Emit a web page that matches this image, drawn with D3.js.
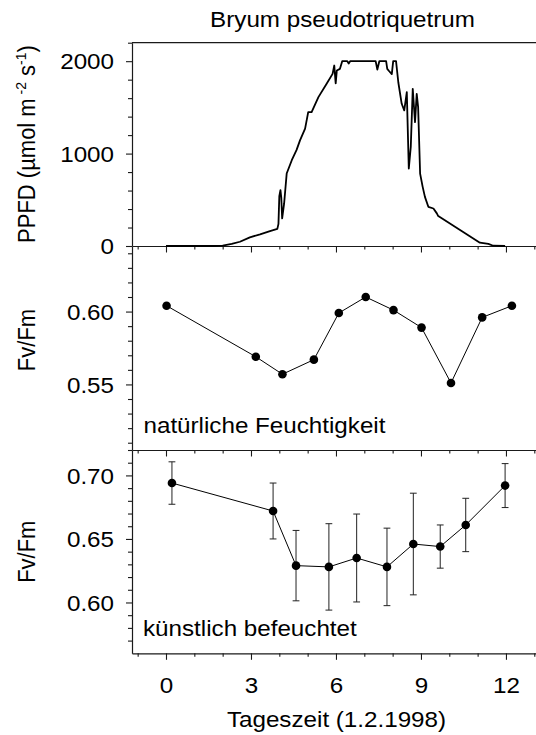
<!DOCTYPE html>
<html>
<head>
<meta charset="utf-8">
<script src="https://cdn.jsdelivr.net/npm/d3@7"></script>
<style>
  html, body { margin: 0; padding: 0; background: #fff; }
  svg { display: block; }
</style>
</head>
<body>
<script>
// ---------------- DATA ----------------
const ppfdHours = [0, 1.0, 1.67, 2.0, 2.32, 2.61, 2.96, 3.32, 3.67, 3.93, 3.97, 4.00, 4.04, 4.07, 4.10, 4.17, 4.26, 4.44, 4.61, 4.73, 4.91, 5.02, 5.14, 5.38, 5.67, 5.88, 5.94, 5.99, 6.03, 6.14, 6.22, 6.40, 6.45, 6.50, 7.40, 7.46, 7.53, 7.77, 7.81, 7.88, 7.97, 8.02, 8.12, 8.20, 8.32, 8.41, 8.50, 8.57, 8.64, 8.71, 8.79, 8.85, 8.90, 8.97, 9.06, 9.14, 9.26, 9.44, 9.56, 9.61, 11.08, 11.38, 11.55, 11.97];
const ppfdValues = [0, 0, 0, 5, 22, 46, 94, 126, 162, 185, 240, 540, 604, 520, 299, 460, 784, 928, 1040, 1143, 1270, 1449, 1449, 1611, 1755, 1863, 1953, 1760, 1899, 1917, 2000, 2000, 1975, 2000, 2000, 1910, 2000, 2000, 1917, 1891, 1860, 2000, 2000, 1772, 1539, 1467, 1665, 838, 1071, 1701, 1341, 1647, 1503, 784, 640, 532, 424, 406, 353, 324, 36, 22, 3, 0];

const natHours = [0.02, 3.17, 4.11, 5.22, 6.10, 7.05, 8.03, 9.02, 10.06, 11.16, 12.21];
const natFvFm  = [0.604, 0.569, 0.557, 0.567, 0.599, 0.610, 0.601, 0.589, 0.551, 0.596, 0.604];

const artHours = [0.21, 3.78, 4.59, 5.75, 6.73, 7.80, 8.73, 9.68, 10.58, 11.97];
const artFvFm  = [0.694, 0.672, 0.629, 0.628, 0.635, 0.628, 0.646, 0.644, 0.661, 0.692];
const artSD    = [0.0167, 0.022, 0.0277, 0.034, 0.0346, 0.0305, 0.040, 0.017, 0.021, 0.0173];

const hourMajorTicks = [0, 3, 6, 9, 12];
const hourMinorTicks = [-1, 1, 2, 4, 5, 7, 8, 10, 11, 13];
const ppfdMajorTicks = [0, 1000, 2000];
const ppfdMinorTicks = [200, 400, 600, 800, 1200, 1400, 1600, 1800, 2200];
const natMajorTicks = [0.55, 0.60];
const natMinorTicks = [0.51, 0.52, 0.53, 0.54, 0.56, 0.57, 0.58, 0.59, 0.61, 0.62, 0.63, 0.64];
const artMajorTicks = [0.60, 0.65, 0.70];
const artMinorTicks = [0.57, 0.58, 0.59, 0.61, 0.62, 0.63, 0.64, 0.66, 0.67, 0.68, 0.69, 0.71, 0.72];

const titleText = "Bryum pseudotriquetrum";
const xTitle = "Tageszeit (1.2.1998)";
const natLabel = "natürliche Feuchtigkeit";
const artLabel = "künstlich befeuchtet";

// ---------------- LAYOUT ----------------
const W = 536, H = 735;
const FONT = "'Liberation Sans', Arial, Helvetica, sans-serif";
const FS = 22;
const SX = 1.1; // horizontal text stretch
const left = 132;
const topY0 = 42.7, topY1 = 246, midY1 = 450, botY1 = 653.3;

const svg = d3.select("body").append("svg")
  .attr("width", W).attr("height", H)
  .attr("font-family", FONT);

const x = d3.scaleLinear().domain([-1.2, 13.3]).range([left, left + 14.5 * 28.33]);
const yP = d3.scaleLinear().domain([0, 2200]).range([topY1, topY0]);
const yN = d3.scaleLinear().domain([0.505, 0.645]).range([midY1, topY1]);
const yA = d3.scaleLinear().domain([0.56, 0.72]).range([botY1, midY1]);

const axisColor = "#1a1a1a";

function styleAxis(g) {
  g.selectAll("path.domain").attr("stroke", axisColor).attr("stroke-width", 1.2);
  g.selectAll("line").attr("stroke", axisColor).attr("stroke-width", 1.1);
}

function yAxes(scale, major, minor, fmt) {
  const gMin = svg.append("g").attr("transform", `translate(${left},0)`)
    .call(d3.axisLeft(scale).tickValues(minor).tickSize(4).tickSizeOuter(0).tickFormat(""));
  gMin.select("path.domain").remove();
  styleAxis(gMin);
  const g = svg.append("g").attr("transform", `translate(${left},0)`)
    .call(d3.axisLeft(scale).tickValues(major).tickSize(6).tickSizeOuter(0).tickFormat(fmt));
  styleAxis(g);
  g.attr("font-size", FS).attr("font-family", FONT);
  g.selectAll("text")
    .attr("x", 0).attr("dy", "0.35em").attr("fill", "#000")
    .attr("text-anchor", "end")
    .attr("transform", `translate(-18,0) scale(${SX},1)`);
}

function xAxes(yPos, withLabels) {
  const gMin = svg.append("g").attr("transform", `translate(0,${yPos})`)
    .call(d3.axisBottom(x).tickValues(hourMinorTicks).tickSize(3.5).tickSizeOuter(0).tickFormat(""));
  gMin.select("path.domain").remove();
  styleAxis(gMin);
  const g = svg.append("g").attr("transform", `translate(0,${yPos})`)
    .call(d3.axisBottom(x).tickValues(hourMajorTicks).tickSize(6.5).tickSizeOuter(0)
      .tickFormat(withLabels ? d3.format("d") : ""));
  styleAxis(g);
  g.attr("font-size", FS).attr("font-family", FONT);
  g.selectAll("text")
    .attr("y", 0).attr("dy", null).attr("fill", "#000")
    .attr("transform", `translate(0,40) scale(${SX},1)`);
}

function hText(str, px, py, anchor) {
  return svg.append("text")
    .attr("transform", `translate(${px},${py}) scale(${SX},1)`)
    .attr("text-anchor", anchor).attr("font-size", FS).attr("fill", "#000")
    .text(str);
}

function vText(px, py) {
  return svg.append("text")
    .attr("transform", `translate(${px},${py}) scale(${SX},1) rotate(-90)`)
    .attr("text-anchor", "middle").attr("font-size", FS).attr("fill", "#000");
}

// top border
svg.append("line").attr("x1", left).attr("x2", W).attr("y1", topY0).attr("y2", topY0)
  .attr("stroke", axisColor).attr("stroke-width", 1.2);

// axes
yAxes(yP, ppfdMajorTicks, ppfdMinorTicks, d3.format("d"));
yAxes(yN, natMajorTicks, natMinorTicks, d3.format(".2f"));
yAxes(yA, artMajorTicks, artMinorTicks, d3.format(".2f"));
xAxes(topY1, false);
xAxes(midY1, false);
xAxes(botY1, true);

// ---------- PPFD line ----------
const ppfdData = ppfdHours.map((h, i) => [h, ppfdValues[i]]);
svg.append("path")
  .datum(ppfdData)
  .attr("fill", "none").attr("stroke", "#000").attr("stroke-width", 1.8)
  .attr("stroke-linejoin", "round")
  .attr("d", d3.line().x(d => x(d[0])).y(d => yP(d[1])));

// ---------- natural ----------
const natData = natHours.map((h, i) => [h, natFvFm[i]]);
svg.append("path").datum(natData)
  .attr("fill", "none").attr("stroke", "#000").attr("stroke-width", 1)
  .attr("d", d3.line().x(d => x(d[0])).y(d => yN(d[1])));
svg.append("g").selectAll("circle").data(natData).join("circle")
  .attr("cx", d => x(d[0])).attr("cy", d => yN(d[1])).attr("r", 4.3).attr("fill", "#000");

// ---------- artificial ----------
const artData = artHours.map((h, i) => ({h, v: artFvFm[i], sd: artSD[i]}));
const eb = svg.append("g").attr("stroke", "#222").attr("stroke-width", 1);
artData.forEach(d => {
  const cx = x(d.h), yt = yA(d.v + d.sd), yb = yA(d.v - d.sd);
  eb.append("line").attr("x1", cx).attr("x2", cx).attr("y1", yt).attr("y2", yb);
  eb.append("line").attr("x1", cx - 3.4).attr("x2", cx + 3.4).attr("y1", yt).attr("y2", yt);
  eb.append("line").attr("x1", cx - 3.4).attr("x2", cx + 3.4).attr("y1", yb).attr("y2", yb);
});
svg.append("path").datum(artData)
  .attr("fill", "none").attr("stroke", "#000").attr("stroke-width", 1)
  .attr("d", d3.line().x(d => x(d.h)).y(d => yA(d.v)));
svg.append("g").selectAll("circle").data(artData).join("circle")
  .attr("cx", d => x(d.h)).attr("cy", d => yA(d.v)).attr("r", 4.3).attr("fill", "#000");

// ---------- texts ----------
hText(titleText, 342.5, 26.7, "middle");
hText(xTitle, 336.5, 726.7, "middle");
hText(natLabel, 143.5, 433, "start");
hText(artLabel, 143, 635.5, "start");

const t1 = vText(34.5, 144);
t1.append("tspan").text("PPFD (µmol m");
t1.append("tspan").attr("font-size", 14).attr("dy", -8).text(" -2");
t1.append("tspan").attr("dy", 8).text(" s");
t1.append("tspan").attr("font-size", 14).attr("dy", -8).text("-1");
t1.append("tspan").attr("dy", 8).text(")");

vText(35, 340).text("Fv/Fm");
vText(35, 551.7).text("Fv/Fm");
</script>
</body>
</html>
